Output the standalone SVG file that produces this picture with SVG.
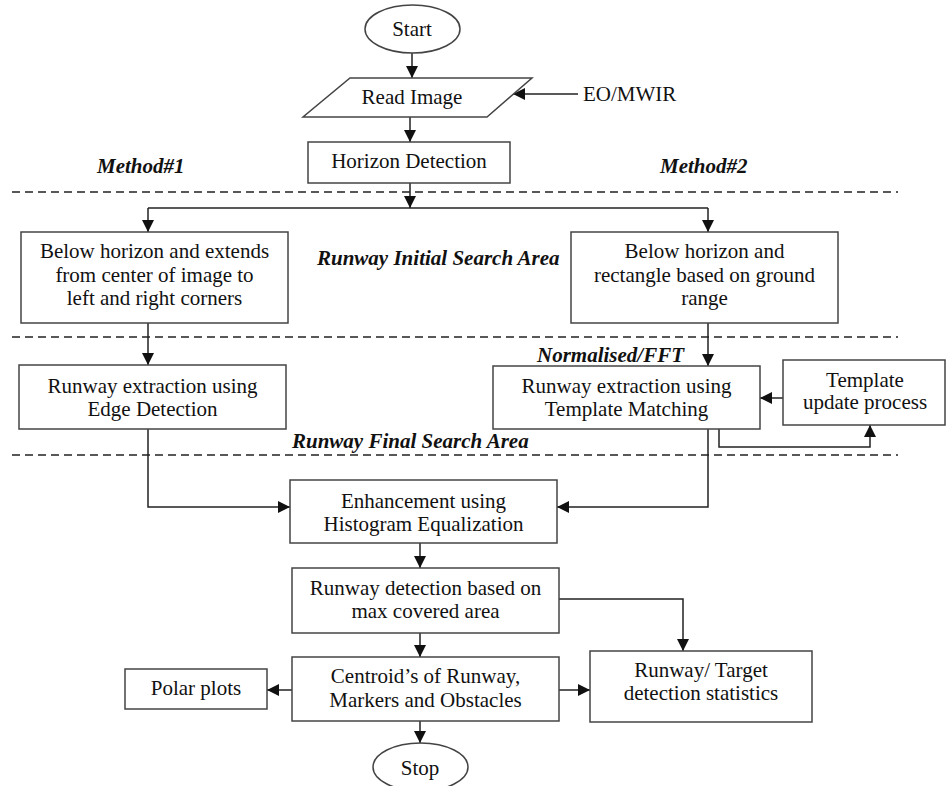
<svg xmlns="http://www.w3.org/2000/svg" width="947" height="786" viewBox="0 0 947 786">
<style>
.box{fill:#fff;stroke:#444;stroke-width:1.5}
.t{font-family:"Liberation Serif","Times New Roman",serif;font-size:21px;fill:#111;text-anchor:middle}
.lb{font-family:"Liberation Serif","Times New Roman",serif;font-size:21px;font-weight:bold;font-style:italic;fill:#111}
.c{fill:none;stroke:#222;stroke-width:1.5}
.d{fill:none;stroke:#222;stroke-width:1.5;stroke-dasharray:8,5}
</style>
<defs>
<marker id="ah" markerUnits="userSpaceOnUse" markerWidth="12" markerHeight="12" viewBox="0 0 12 12" refX="12" refY="6" orient="auto">
<path d="M0,0 L12,6 L0,12 Z" fill="#111"/>
</marker>
</defs>
<rect width="947" height="786" fill="#fff"/>
<g id="dividers">
<line class="d" x1="12" y1="192" x2="898" y2="192"/>
<line class="d" x1="12" y1="337" x2="898" y2="337"/>
<line class="d" x1="12" y1="455" x2="898" y2="455"/>
</g>
<g id="labels">
<text class="lb" x="97" y="173">Method#1</text>
<text class="lb" x="660" y="173">Method#2</text>
<text class="lb" x="317" y="265">Runway Initial Search Area</text>
<text class="lb" x="537" y="362">Normalised/FFT</text>
<text class="lb" x="292" y="448">Runway Final Search Area</text>
<text class="t" x="583" y="101" style="text-anchor:start">EO/MWIR</text>
</g>
<g id="connectors">
<line class="c" x1="412" y1="53" x2="412" y2="78" marker-end="url(#ah)"/>
<line class="c" x1="578" y1="94" x2="513" y2="94" marker-end="url(#ah)"/>
<line class="c" x1="410" y1="117" x2="410" y2="142" marker-end="url(#ah)"/>
<line class="c" x1="410" y1="183" x2="410" y2="208" marker-end="url(#ah)"/>
<polyline class="c" points="148,208 708,208"/>
<line class="c" x1="148" y1="208" x2="148" y2="232" marker-end="url(#ah)"/>
<line class="c" x1="708" y1="208" x2="708" y2="232" marker-end="url(#ah)"/>
<line class="c" x1="148" y1="323" x2="148" y2="365" marker-end="url(#ah)"/>
<line class="c" x1="708" y1="323" x2="708" y2="366" marker-end="url(#ah)"/>
<line class="c" x1="783" y1="398" x2="760" y2="398" marker-end="url(#ah)"/>
<polyline class="c" points="719,429 719,447 870,447 870,425" marker-end="url(#ah)"/>
<polyline class="c" points="148,429 148,507 290,507" marker-end="url(#ah)"/>
<polyline class="c" points="708,429 708,507 557,507" marker-end="url(#ah)"/>
<line class="c" x1="420" y1="543" x2="420" y2="568" marker-end="url(#ah)"/>
<line class="c" x1="420" y1="633" x2="420" y2="657" marker-end="url(#ah)"/>
<polyline class="c" points="559,599 683,599 683,651" marker-end="url(#ah)"/>
<line class="c" x1="292" y1="690" x2="267" y2="690" marker-end="url(#ah)"/>
<line class="c" x1="559" y1="690" x2="590" y2="690" marker-end="url(#ah)"/>
<line class="c" x1="420" y1="721" x2="420" y2="743" marker-end="url(#ah)"/>
</g>
<g id="start">
<ellipse class="box" cx="412.5" cy="29" rx="47.5" ry="24"/>
<text class="t" x="412" y="36">Start</text>
</g>
<g id="read-image">
<polygon class="box" points="350,78 532,78 487,117 303,117"/>
<text class="t" x="412" y="104">Read Image</text>
</g>
<g id="horizon">
<rect class="box" x="308" y="142" width="202" height="41"/>
<text class="t" x="409" y="168">Horizon Detection</text>
</g>
<g id="left-search">
<rect class="box" x="21" y="232" width="267" height="91"/>
<text class="t" x="154.5" y="258">Below horizon and extends</text>
<text class="t" x="154.5" y="282">from center of image to</text>
<text class="t" x="154.5" y="305">left and right corners</text>
</g>
<g id="right-search">
<rect class="box" x="571" y="232" width="267" height="91"/>
<text class="t" x="704.5" y="258">Below horizon and</text>
<text class="t" x="704.5" y="282">rectangle based on ground</text>
<text class="t" x="704.5" y="305">range</text>
</g>
<g id="edge-detection">
<rect class="box" x="19" y="365" width="267" height="64"/>
<text class="t" x="152.5" y="393">Runway extraction using</text>
<text class="t" x="152.5" y="416">Edge Detection</text>
</g>
<g id="template-matching">
<rect class="box" x="493" y="366" width="267" height="63"/>
<text class="t" x="626.5" y="393">Runway extraction using</text>
<text class="t" x="626.5" y="416">Template Matching</text>
</g>
<g id="template-update">
<rect class="box" x="783" y="360" width="162" height="65"/>
<text class="t" x="865" y="387">Template</text>
<text class="t" x="865" y="409">update process</text>
</g>
<g id="enhancement">
<rect class="box" x="290" y="480" width="267" height="63"/>
<text class="t" x="423.5" y="508">Enhancement using</text>
<text class="t" x="423.5" y="531">Histogram Equalization</text>
</g>
<g id="runway-detection">
<rect class="box" x="292" y="568" width="267" height="65"/>
<text class="t" x="425.5" y="595">Runway detection based on</text>
<text class="t" x="425.5" y="618">max covered area</text>
</g>
<g id="centroids">
<rect class="box" x="292" y="657" width="267" height="64"/>
<text class="t" x="425.5" y="683">Centroid’s of Runway,</text>
<text class="t" x="425.5" y="707">Markers and Obstacles</text>
</g>
<g id="polar-plots">
<rect class="box" x="125" y="669" width="142" height="40"/>
<text class="t" x="196" y="695">Polar plots</text>
</g>
<g id="statistics">
<rect class="box" x="590" y="651" width="222" height="71"/>
<text class="t" x="701" y="677">Runway/ Target</text>
<text class="t" x="701" y="700">detection statistics</text>
</g>
<g id="stop">
<ellipse class="box" cx="420.5" cy="767" rx="47.5" ry="24"/>
<text class="t" x="420" y="775">Stop</text>
</g>
</svg>
